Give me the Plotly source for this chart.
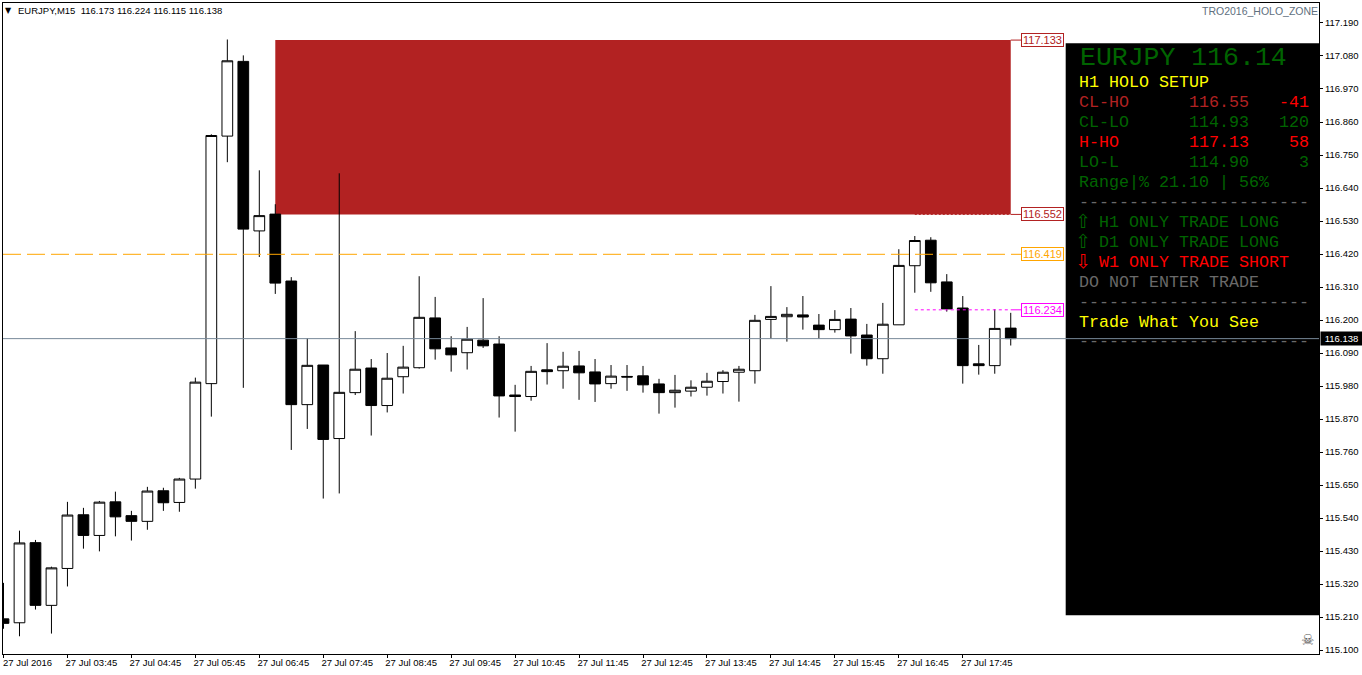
import pandas as pd
import plotly.graph_objects as go

# ---------- data ----------
start_time = "2016-07-27 02:45"
bar_minutes = 15
open_ = [115.204,115.191,115.458,115.249,115.372,115.551,115.482,115.594,115.548,115.529,115.631,115.592,
         115.670,115.988,116.813,117.062,116.497,116.553,116.330,115.918,116.050,115.805,115.958,116.040,
         115.915,116.011,116.041,116.207,116.107,116.091,116.133,116.120,115.950,115.945,116.034,116.031,
         116.047,116.027,115.988,116.012,116.014,115.987,115.958,115.963,115.976,115.995,116.026,116.031,
         116.202,116.211,116.217,116.183,116.168,116.203,116.150,116.071,116.184,116.381,116.466,116.327,
         116.240,116.054,116.048,116.173]
high = [115.324,115.498,115.467,115.378,115.594,115.574,115.597,115.628,115.564,115.644,115.641,115.674,
        116.008,116.819,117.135,117.082,116.699,116.586,116.343,116.139,116.050,116.689,116.163,116.070,
        116.090,116.114,116.346,116.277,116.146,116.177,116.273,116.146,115.984,116.047,116.123,116.094,
        116.097,116.070,116.050,116.050,116.047,116.004,116.017,115.999,116.024,116.033,116.047,116.217,
        116.313,116.243,116.280,116.220,116.233,116.240,116.187,116.257,116.436,116.480,116.476,116.353,
        116.280,116.117,116.236,116.224]
low = [115.171,115.146,115.235,115.155,115.312,115.438,115.429,115.479,115.465,115.501,115.564,115.561,
       115.638,115.878,116.726,115.974,116.410,116.287,115.767,115.837,115.605,115.622,115.950,115.815,
       115.892,115.955,116.038,116.068,116.028,116.035,116.107,115.875,115.828,115.931,115.985,115.971,
       115.934,115.927,115.971,115.964,115.958,115.888,115.908,115.945,115.948,115.955,115.928,115.988,
       116.138,116.128,116.168,116.138,116.158,116.088,116.048,116.021,116.184,116.291,116.294,116.228,
       115.988,116.018,116.021,116.115]
close = [115.189,115.457,115.249,115.374,115.550,115.482,115.593,115.544,115.529,115.630,115.591,115.670,
         115.993,116.815,117.064,116.503,116.548,116.323,115.918,116.049,115.802,115.959,116.036,115.915,
         116.006,116.043,116.209,116.104,116.084,116.136,116.114,115.947,115.945,116.029,116.028,116.046,
         116.024,115.987,116.013,116.010,115.984,115.958,115.966,115.976,115.996,116.026,116.036,116.199,
         116.212,116.219,116.210,116.168,116.202,116.147,116.071,116.186,116.382,116.465,116.324,116.237,
         116.048,116.048,116.172,116.138]
x_tick_labels = ["27 Jul 2016","27 Jul 03:45","27 Jul 04:45","27 Jul 05:45","27 Jul 06:45","27 Jul 07:45",
                 "27 Jul 08:45","27 Jul 09:45","27 Jul 10:45","27 Jul 11:45","27 Jul 12:45","27 Jul 13:45",
                 "27 Jul 14:45","27 Jul 15:45","27 Jul 16:45","27 Jul 17:45"]
y_ticks = [117.19,117.08,116.97,116.86,116.75,116.64,116.53,116.42,116.31,116.20,116.09,
           115.98,115.87,115.76,115.65,115.54,115.43,115.32,115.21,115.10]
zone_high = 117.133
zone_low = 116.552
orange_level = 116.419
magenta_level = 116.234
last_price = 116.138

# ---------- styling ----------
FIG_W, FIG_H = 1362, 675
L, R, T, B = 2.5, 1319.5, 2.5, 654.5
UI = "Liberation Sans"
MONO = "Liberation Mono"
FIREBRICK, ORANGE, MAGENTA, SLATE = "#B22222", "#FFA500", "#FF00FF", "#778899"
DKGREEN, RED, YELLOW, DASHGRAY = "#006400", "#FF0000", "#FFFF00", "#696969"

times = pd.date_range(start_time, periods=len(close), freq=f"{bar_minutes}min")
x_range = ["2016-07-27 02:44:32", "2016-07-27 23:19:13"]
y_range = [115.0869, 117.2566]
zone_start, zone_end = times[17], times[63]
lev_start = times[57]
lab_conn = "2016-07-27 18:40:20"


def px(x):
    return (x - L) / (R - L)


def py(y):
    return (B - y) / (B - T)


fig = go.Figure(go.Candlestick(
    x=times, open=open_, high=high, low=low, close=close,
    increasing=dict(line=dict(color="black", width=1), fillcolor="white"),
    decreasing=dict(line=dict(color="black", width=1), fillcolor="black"),
    whiskerwidth=0, showlegend=False, hoverinfo="skip"))


def line(x0, x1, y, color, dash="solid", width=1):
    return dict(type="line", xref="x", yref="y", x0=x0, x1=x1, y0=y, y1=y, layer="above",
                line=dict(color=color, width=width, dash=dash))


shapes = [
    dict(type="rect", xref="x", yref="y", x0=zone_start, x1=zone_end, y0=zone_low, y1=zone_high,
         fillcolor=FIREBRICK, line=dict(width=0), layer="below"),
    line(x_range[0], lab_conn, orange_level, ORANGE, "18px,6px"),
    line(zone_end, lab_conn, zone_high, FIREBRICK),
    line(zone_end, lab_conn, zone_low, FIREBRICK),
    line(lev_start, zone_end, zone_low, FIREBRICK, "2px,2px"),
    line(lev_start, zone_end, magenta_level, MAGENTA, "3px,3px"),
    line(zone_end, lab_conn, magenta_level, MAGENTA),
    dict(type="rect", xref="paper", yref="paper", x0=px(1066), x1=1, y0=py(615.7), y1=py(42.7),
         fillcolor="black", line=dict(width=0), layer="above"),
    line(x_range[0], x_range[1], last_price, SLATE),
]

ann = []


def text(x, y, s, color, size=16.67, family=MONO, anchor="left", **kw):
    ann.append(dict(xref="paper", yref="paper", x=px(x), y=py(y), text=s, showarrow=False,
                    xanchor=anchor, yanchor="middle", borderpad=0, borderwidth=0,
                    font=dict(family=family, size=size, color=color), **kw))


# header texts
text(5, 10, "▼", "black", size=8, family="DejaVu Sans")
text(18, 10.5, "EURJPY,M15  116.173 116.224 116.115 116.138", "black", size=9.5, family=UI)
text(1318.5, 11, "TRO2016_HOLO_ZONE", "#606F7E", size=10.5, family=UI, anchor="right")
text(1308, 640, "☠", "#555555", size=15, family="DejaVu Sans", anchor="center")

# level labels
for lvl, col in [(zone_high, FIREBRICK), (zone_low, FIREBRICK), (orange_level, ORANGE), (magenta_level, MAGENTA)]:
    ann.append(dict(xref="x", yref="y", x=lab_conn, y=lvl, text=f"{lvl:.3f}", showarrow=False,
                    xanchor="left", yanchor="middle", xshift=-1, bgcolor="white", bordercolor=col,
                    borderwidth=1, borderpad=0, width=41, height=12,
                    font=dict(family=UI, size=11, color=col)))

# last price tag
ann.append(dict(xref="paper", yref="y", x=px(1321), y=last_price, text=f"{last_price:.3f}", showarrow=False,
                xanchor="left", yanchor="middle", bgcolor="black", borderpad=0, width=41, height=13,
                font=dict(family=UI, size=9.5, color="white")))

# panel
text(1080.5, 58, "EURJPY 116.14", DKGREEN, size=26.5)
text(1079, 82.5, "H1 HOLO SETUP", YELLOW)
rows = [(102.5, "CL-HO", "116.55", "-41", FIREBRICK, RED),
        (122.5, "CL-LO", "114.93", "120", DKGREEN, DKGREEN),
        (142.5, "H-HO", "117.13", "58", RED, RED),
        (162.5, "LO-L", "114.90", "3", DKGREEN, DKGREEN)]
for y, a, b, c, col, col2 in rows:
    text(1079, y, a, col)
    text(1189.5, y, b, col)
    text(1309.5, y, c, col2, anchor="right")
text(1079, 182.5, "Range|% 21.10 | 56%", DKGREEN)
text(1079, 202, "-" * 23, DASHGRAY)
text(1083, 221, "⇧", DKGREEN, size=19, family="DejaVu Sans", anchor="center")
text(1099, 222.5, "H1 ONLY TRADE LONG", DKGREEN)
text(1083, 241, "⇧", DKGREEN, size=19, family="DejaVu Sans", anchor="center")
text(1099, 242.5, "D1 ONLY TRADE LONG", DKGREEN)
text(1083, 261, "⇩", RED, size=19, family="DejaVu Sans", anchor="center")
text(1099, 262.5, "W1 ONLY TRADE SHORT", RED)
text(1079, 282.5, "DO NOT ENTER TRADE", DASHGRAY)
text(1079, 302, "-" * 23, DASHGRAY)
text(1079, 322.5, "Trade What You See", YELLOW)
text(1079, 342, "-" * 23, DASHGRAY)

axis_common = dict(showgrid=False, zeroline=False, showline=True, linecolor="black", linewidth=1,
                   mirror=True, ticks="outside", ticklen=3, tickcolor="black", tickwidth=1,
                   tickfont=dict(family=UI, size=9.5, color="black"))
fig.update_layout(
    width=FIG_W, height=FIG_H, autosize=False,
    margin=dict(l=L, r=FIG_W - R, t=T, b=FIG_H - B, pad=0),
    paper_bgcolor="white", plot_bgcolor="white", showlegend=False,
    boxgap=0.33, boxgroupgap=0,
    shapes=shapes, annotations=ann,
    xaxis=dict(type="date", range=x_range, rangeslider=dict(visible=False),
               tickmode="array", tickvals=list(times[::4]), ticktext=x_tick_labels,
               tickangle=0, ticklabelshift=24, ticklabelstandoff=-3, **axis_common),
    yaxis=dict(side="right", range=y_range, tickmode="array", tickvals=y_ticks,
               ticktext=[f"{v:.3f}" for v in y_ticks], **axis_common),
)

fig.write_html("out.html", config={"displayModeBar": False},
               post_script="document.body.style.margin='0';document.documentElement.style.overflow='hidden';")
